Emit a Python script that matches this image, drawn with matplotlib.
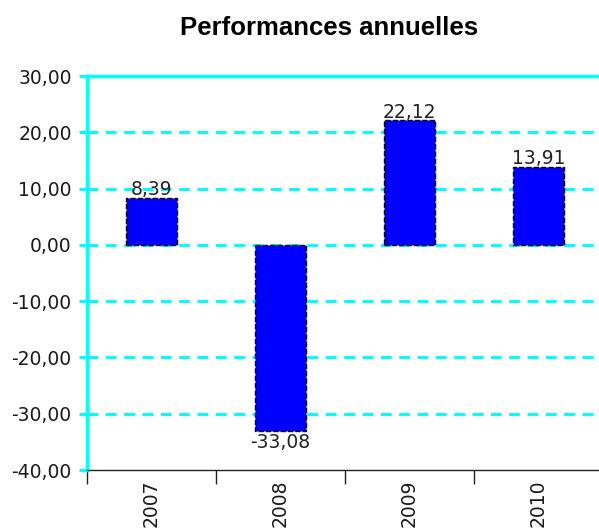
import matplotlib.pyplot as plt
import numpy as np

years = ['2007', '2008', '2009', '2010']
perf = [8.39, -33.08, 22.12, 13.91]
yticks = [-40, -30, -20, -10, 0, 10, 20, 30]

def fr(v):
    return '{:.2f}'.format(v).replace('.', ',')

fig = plt.figure(figsize=(5.99, 5.29), dpi=100)
ax = fig.add_axes([87/599, 59/529, 516/599, 394/529])

x = np.arange(len(years))
# grid lines
for t in yticks[1:-1]:
    ax.axhline(t, color='#00ffff', lw=2.2, ls=(0, (3.5, 2.5)), zorder=1)

bars = ax.bar(x, perf, width=0.4, color='#0000ff', edgecolor='black',
              linewidth=1, linestyle='--', zorder=2)

for xi, v in zip(x, perf):
    if v >= 0:
        ax.text(xi, v - 0.3, fr(v), ha='center', va='bottom', fontsize=13.5, color='#222222')
    else:
        ax.text(xi, v - 0.4, fr(v), ha='center', va='top', fontsize=13.5, color='#222222')

ax.set_xlim(-0.5, 3.5)
ax.set_ylim(-40, 30)
ax.set_yticks(yticks)
ax.set_yticklabels([fr(t) for t in yticks], fontsize=13.5, color='#1a1a1a')
ax.tick_params(axis='y', colors='#00ffff', width=2.2, length=6, pad=5, labelcolor='#1a1a1a')

ax.set_xticks(np.arange(-0.5, 4.0, 1.0))
ax.set_xticklabels([])
ax.tick_params(axis='x', direction='out', length=10, width=1, color='#222222')
ax.set_xticks(x, minor=True)
ax.set_xticklabels(years, minor=True, rotation=90, fontsize=13.5, color='#1a1a1a')
ax.tick_params(axis='x', which='minor', length=0, pad=7)

ax.spines['left'].set_color('#00ffff')
ax.spines['left'].set_linewidth(2.5)
ax.spines['top'].set_color('#00ffff')
ax.spines['top'].set_linewidth(2.5)
ax.spines['right'].set_visible(False)
ax.spines['bottom'].set_color('#222222')
ax.spines['bottom'].set_linewidth(1)

fig.text(329/599, 1 - 35/529, 'Performances annuelles', ha='center', va='baseline',
         fontsize=18.5, fontweight='bold', family='Liberation Sans')

fig.savefig('out.png', dpi=100)
